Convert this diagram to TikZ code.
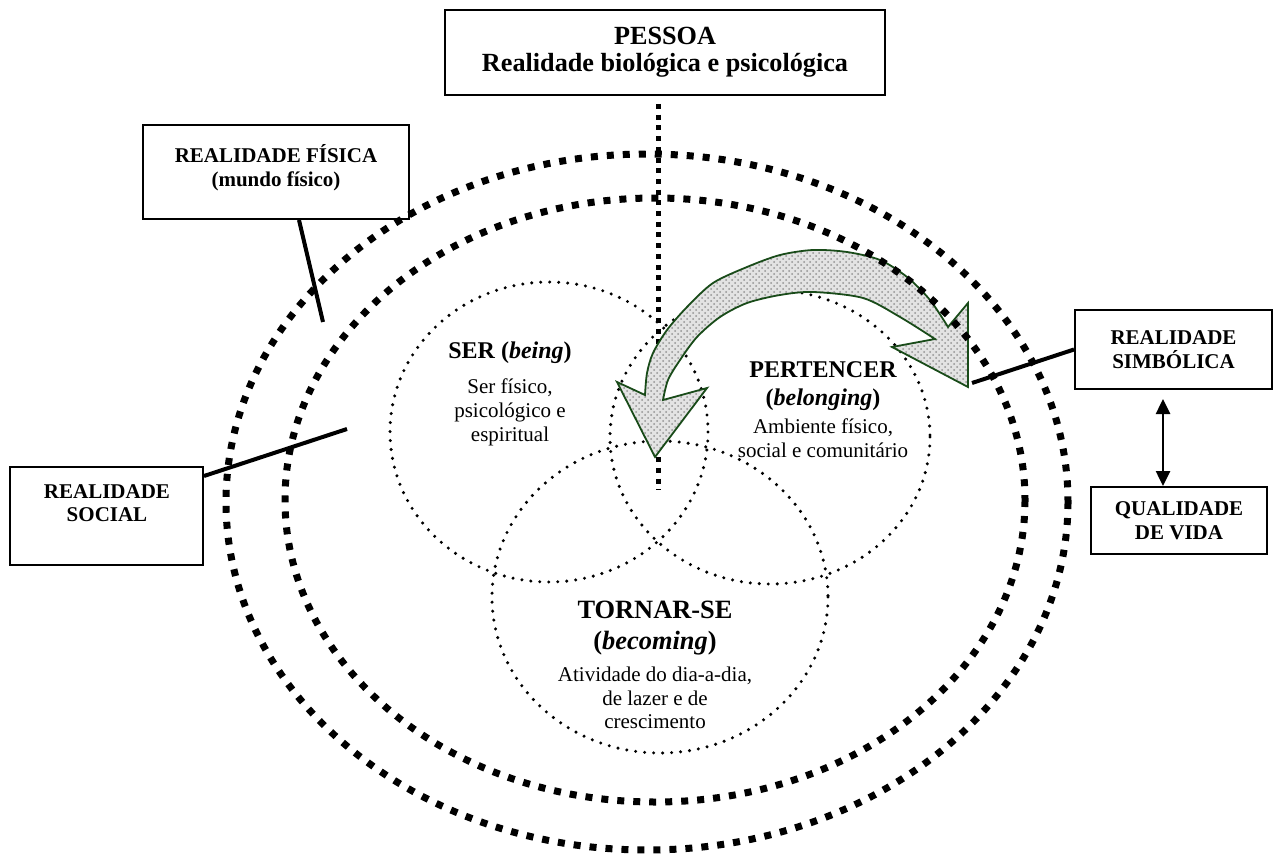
\documentclass[tikz,border=0pt]{standalone}
\usepackage{fontspec}
\setmainfont{Liberation Serif}
\usetikzlibrary{arrows.meta,patterns}
\definecolor{arrowgreen}{RGB}{25,75,25}
\begin{document}
\begin{tikzpicture}[x={(0.5pt,0)}, y={(0,-0.5pt)},
  box/.style={draw, line width=1pt, inner sep=0pt},
  boxtext/.style={align=center, inner sep=0pt, font=\bfseries\fontsize{10.5}{11.8}\selectfont},
  titletext/.style={align=center, inner sep=0pt, font=\bfseries\fontsize{12}{14}\selectfont},
  bodytext/.style={align=center, inner sep=0pt, font=\fontsize{10.5}{12}\selectfont},
  thickdots/.style={line width=3.5pt, dash pattern=on 3.5pt off 4.5pt},
  finedots/.style={line width=1.7pt, dash pattern=on 0pt off 4.5pt, line cap=round},
  persondots/.style={line width=2.5pt, dash pattern=on 2.5pt off 2.85pt},
  link/.style={line width=2pt},
  dblarrow/.style={line width=1.3pt, {Triangle[width=7pt,length=7.5pt]}-{Triangle[width=7pt,length=7.5pt]}},
  bigarrow/.style={draw=arrowgreen, line width=0.9pt, preaction={fill=gray!22}, pattern=crosshatch dots, pattern color=gray!85}
]
\useasboundingbox (0,0) rectangle (1279,856);

% three dotted circles
\draw[finedots] (549,432) ellipse (159 and 150);
\draw[finedots] (770,437) ellipse (160 and 147);
\draw[finedots] (660,597) ellipse (168 and 156);

% boxes
\node[box, minimum width=220pt, minimum height=42.5pt, align=center,
      font=\bfseries\fontsize{13.1}{13.5}\selectfont] (pes) at (665,52.5)
      {PESSOA\\Realidade biológica e psicológica};
\node[box, minimum width=133pt, minimum height=47pt] (fis) at (276,172) {};
\node[boxtext] (fist) at (276,168) {REALIDADE FÍSICA\\(mundo físico)};
\node[box, minimum width=98.5pt, minimum height=39.5pt, boxtext] (simb) at (1173.5,349.5) {REALIDADE\\SIMBÓLICA};
\node[box, minimum width=88pt, minimum height=33.5pt, boxtext] (qual) at (1179,520.5) {QUALIDADE\\DE VIDA};
\node[box, minimum width=96.5pt, minimum height=49pt] (soc) at (106.5,516) {};
\node[boxtext] (soct) at (107,503) {REALIDADE\\SOCIAL};

% vertical dotted line from the person box
\coordinate (vend) at (658,490);
\draw[persondots] ([xshift=-3.5pt,yshift=-4pt]pes.south) -- (vend);

% curved block arrow
\path[bigarrow] (655,457) -- (707,388)
  -- plot[smooth] coordinates {(663,400) (668,380) (680,360) (697,337) (720,317) (747,303) (780,295) (813,292) (863,298) (900,317) (935,339)}
  -- (892,347) -- (968,387) -- (968,303)
  -- plot[smooth] coordinates {(948,327) (930,300) (907,277) (880,260) (847,252) (813,250) (780,255) (747,267) (713,283) (687,307) (667,330) (653,353) (647,373) (645,395)}
  -- (617,382) -- cycle;

% thick dotted ellipses
\draw[thickdots] (647,502) ellipse (421 and 348);
\draw[thickdots] (655,500) ellipse (370 and 302);

% connector lines
\coordinate (fisend) at (323,322);
\coordinate (socend) at (347,429);
\coordinate (simbend) at (972,383);
\draw[link] ([xshift=11.5pt]fis.south) -- (fisend);
\draw[link] ([yshift=-5pt]soc.north east) -- (socend);
\draw[link] (simb.west) -- (simbend);
\draw[dblarrow] ([xshift=-5.25pt,yshift=-4.5pt]simb.south) -- ([xshift=-8pt]qual.north);

% texts in circles
\node[titletext] (sert) at (510,353) {SER (\textit{being})};
\node[bodytext] (serb) at (510,412) {Ser físico,\\psicológico e\\espiritual};
\node[titletext] (pert) at (823,386) {PERTENCER\\(\textit{belonging})};
\node[bodytext] (perb) at (823,438) {Ambiente físico,\\social e comunitário};
\node[align=center, inner sep=0pt, font=\bfseries\fontsize{13.2}{15.5}\selectfont] (tort) at (655,628) {TORNAR-SE\\(\textit{becoming})};
\node[bodytext, font=\fontsize{10.5}{11.8}\selectfont] (torb) at (655,698) {Atividade do dia-a-dia,\\de lazer e de\\crescimento};
\end{tikzpicture}
\end{document}
